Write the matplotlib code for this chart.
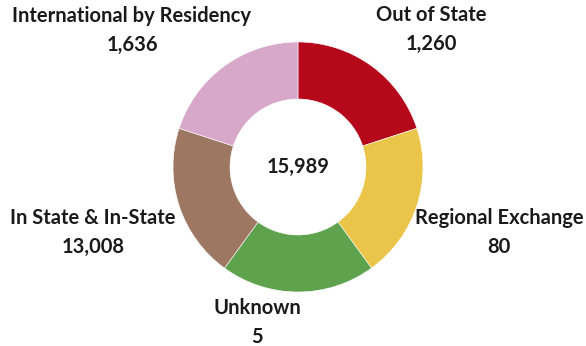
import matplotlib.pyplot as plt

# donnees (ordre horaire depuis midi)
categories = ['Out of State', 'Regional Exchange', 'Unknown',
              'In State & In-State', 'International by Residency']
counts = [1260, 80, 5, 13008, 1636]
total = 15989
colors = ['#B5081B', '#EAC54A', '#5EA24D', '#9E7763', '#D8A8CA']
# toutes les parts ont la meme taille dans l'original
shares = [1, 1, 1, 1, 1]

H = 346
# position des etiquettes (pixels depuis le haut)
label_pos = [(431, 15), (499, 218), (257, 308), (93, 218), (132, 16)]

fig = plt.figure(figsize=(5.86, 3.46), dpi=100)
ax = fig.add_axes([0, 0, 1, 1])

ax.pie(shares, colors=colors, startangle=90, counterclock=False,
       center=(298, H - 167), radius=125, frame=True,
       wedgeprops=dict(width=125 - 68, edgecolor='white', linewidth=0.4))

ax.set_xlim(0, 586)
ax.set_ylim(0, H)
ax.set_aspect('equal')
ax.axis('off')

font = dict(family='Lato', weight='bold', fontsize=14.5, color='#1a1a1a',
            ha='center', va='center')
for cat, n, (x, y) in zip(categories, counts, label_pos):
    ax.text(x, H - y, cat, **font)
    ax.text(x, H - y - 29, f'{n:,}', **font)

ax.text(298, H - 167, f'{total:,}', **font)

plt.savefig('out.png', dpi=100)
